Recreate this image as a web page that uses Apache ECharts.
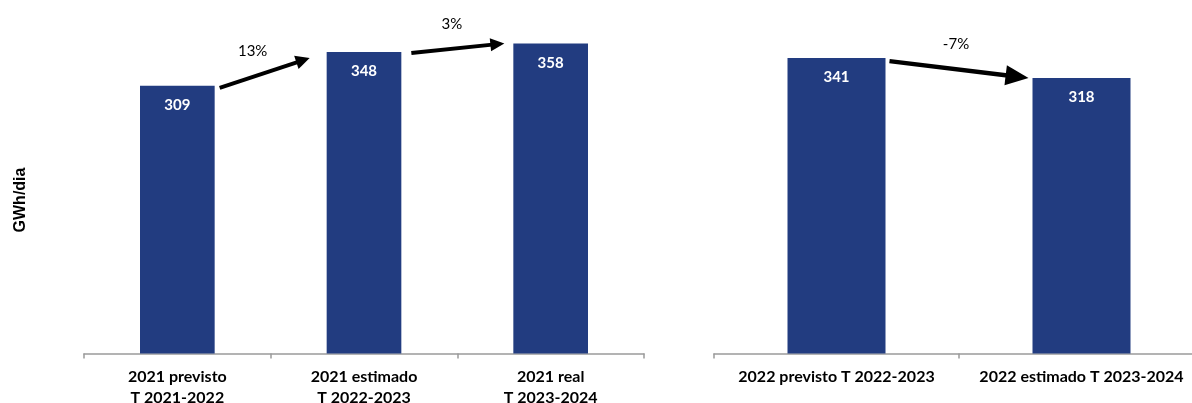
<!DOCTYPE html>
<html>
<head>
<meta charset="utf-8">
<script src="https://cdn.jsdelivr.net/npm/echarts@6/dist/echarts.min.js"></script>
<style>
html,body{margin:0;padding:0;background:#fff;}
#c{width:1192px;height:403px;}
</style>
</head>
<body>
<div id="c"></div>
<script>
// ---- data ----
var categoriesA = ['2021 previsto\nT 2021-2022', '2021 estimado\nT 2022-2023', '2021 real\nT 2023-2024'];
var valuesA = [309, 348, 358];
var changesA = ['13%', '3%'];

var categoriesB = ['2022 previsto T 2022-2023', '2022 estimado T 2023-2024'];
var valuesB = [341, 318];
var changesB = ['-7%'];

var yAxisTitle = 'GWh/dia';

// ---- style ----
var BAR = '#223c80';
var AXIS = '#9a9a9a';
var FONT = 'Lato, "Open Sans", sans-serif';
// per-arrow pixel tweaks: [startDx, startDy, endDx, endDy, headLen, headW, lineW, labelDx, labelDy]
var arrowStyleA = [
  [5, 2, -17, 6, 14, 14, 4, -12, -22],
  [10, 1, -9, 0, 14, 13, 4, -6, -24]
];
var arrowStyleB = [
  [4, 3, -4, 0, 23, 20, 4.5, -3, -25]
];

var chart = echarts.init(document.getElementById('c'), null, {renderer: 'canvas'});

function xAxisCfg(gi, cats) {
  return {
    type: 'category', gridIndex: gi, data: cats,
    axisLine: {lineStyle: {color: AXIS, width: 1.5}},
    axisTick: {show: true, length: 5, lineStyle: {color: AXIS, width: 1.5}},
    axisLabel: {
      interval: 0, margin: 13, color: '#000', fontFamily: FONT,
      fontWeight: 'bold', fontSize: 16, lineHeight: 21
    }
  };
}
function yAxisCfg(gi) {
  return {type: 'value', gridIndex: gi, min: 0, max: 400, show: false, splitLine: {show: false}};
}
function barSeries(i, vals) {
  return {
    type: 'bar', xAxisIndex: i, yAxisIndex: i, data: vals, barWidth: '40%',
    itemStyle: {color: BAR},
    label: {
      show: true, position: 'insideTop', distance: 12, color: '#fff',
      fontFamily: FONT, fontWeight: 'bold', fontSize: 15
    },
    animation: false
  };
}

chart.setOption({
  animation: false,
  grid: [
    {left: 84, width: 560, top: 7, bottom: 49.5, outerBoundsMode: 'none', containLabel: false},
    {left: 714, right: -12, top: 7, bottom: 49.5, outerBoundsMode: 'none', containLabel: false}
  ],
  xAxis: [xAxisCfg(0, categoriesA), xAxisCfg(1, categoriesB)],
  yAxis: [yAxisCfg(0), yAxisCfg(1)],
  series: [barSeries(0, valuesA), barSeries(1, valuesB)]
});

function buildArrows(si, vals, changes, styles) {
  var els = [];
  var p0 = chart.convertToPixel({seriesIndex: si}, [0, 0]);
  var p1 = chart.convertToPixel({seriesIndex: si}, [1, 0]);
  var half = (p1[0] - p0[0]) * 0.4 / 2;
  for (var i = 0; i < changes.length; i++) {
    var s = styles[i];
    var a = chart.convertToPixel({seriesIndex: si}, [i, vals[i]]);
    var b = chart.convertToPixel({seriesIndex: si}, [i + 1, vals[i + 1]]);
    var sx = a[0] + half + s[0], sy = a[1] + s[1];
    var ex = b[0] - half + s[2], ey = b[1] + s[3];
    var dx = ex - sx, dy = ey - sy, L = Math.sqrt(dx * dx + dy * dy);
    var ux = dx / L, uy = dy / L, nx = -uy, ny = ux;
    var hl = s[4], hw = s[5] / 2;
    var bx = ex - ux * hl, by = ey - uy * hl;
    els.push({
      type: 'line', silent: true,
      shape: {x1: sx, y1: sy, x2: bx + ux * 2, y2: by + uy * 2},
      style: {stroke: '#000', lineWidth: s[6]}
    });
    els.push({
      type: 'polygon', silent: true,
      shape: {points: [[ex, ey], [bx + nx * hw, by + ny * hw], [bx - nx * hw, by - ny * hw]]},
      style: {fill: '#000'}
    });
    els.push({
      type: 'text', silent: true,
      x: (sx + ex) / 2 + s[7], y: (sy + ey) / 2 + s[8],
      style: {text: changes[i], fill: '#000', font: '15px ' + FONT, align: 'center', verticalAlign: 'middle'}
    });
  }
  return els;
}

var graphics = [].concat(
  buildArrows(0, valuesA, changesA, arrowStyleA),
  buildArrows(1, valuesB, changesB, arrowStyleB)
);
graphics.push({
  type: 'text', silent: true, x: 21, y: 200, rotation: Math.PI / 2,
  style: {text: yAxisTitle, fill: '#000', font: 'bold 16px "Liberation Sans", Arial, sans-serif', align: 'center', verticalAlign: 'middle'}
});
chart.setOption({graphic: graphics});
</script>
</body>
</html>
